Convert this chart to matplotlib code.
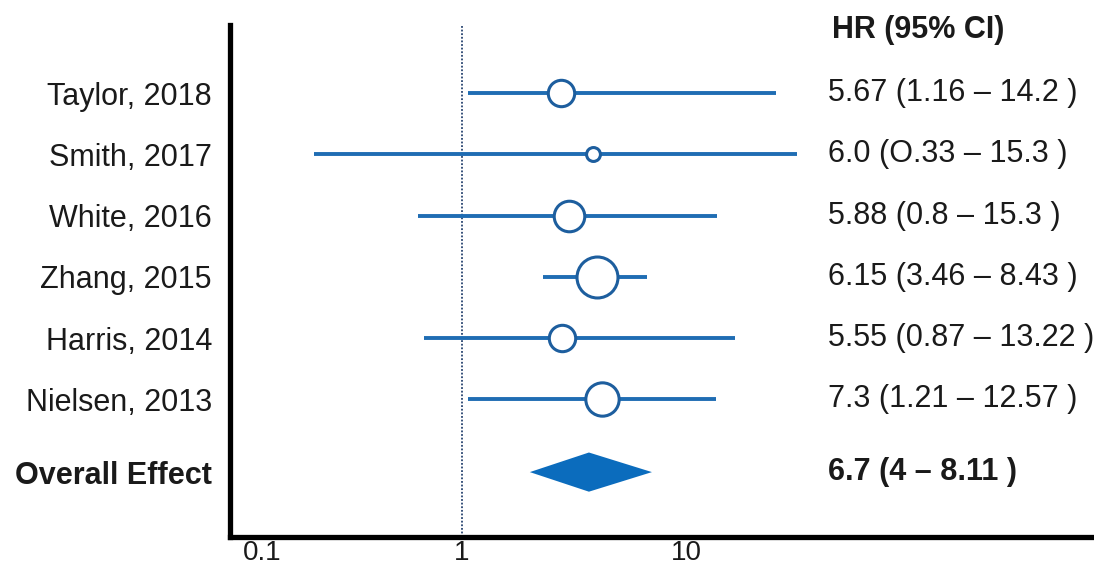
#!/usr/bin/env python3
import matplotlib.pyplot as plt
from matplotlib.transforms import blended_transform_factory, ScaledTranslation

plt.rcParams["font.family"] = ["Liberation Sans", "DejaVu Sans"]

studies = ["Taylor, 2018", "Smith, 2017", "White, 2016", "Zhang, 2015",
           "Harris, 2014", "Nielsen, 2013"]
point = [2.93, 4.15, 3.20, 4.33, 2.96, 4.58]
lower = [1.07, 0.20, 0.62, 2.41, 0.66, 1.07]
upper = [30.3, 38.0, 15.9, 7.46, 19.4, 15.8]
weights = [19, 10, 22, 29.5, 19, 24]
hr_text = ["5.67 (1.16 \u2013 14.2 )", "6.0 (O.33 \u2013 15.3 )", "5.88 (0.8 \u2013 15.3 )",
           "6.15 (3.46 \u2013 8.43 )", "5.55 (0.87 \u2013 13.22 )", "7.3 (1.21 \u2013 12.57 )"]

overall_label = "Overall Effect"
overall_point = 3.97
overall_lower = 2.09
overall_upper = 7.87
overall_text = "6.7 (4 \u2013 8.11 )"

xticks = [0.1, 1, 10]
xtick_labels = ["0.1", "1", "10"]

LINE = "#1f6db3"
EDGE = "#1d5e9e"
DIAMOND = "#0b6cbd"
TEXT = "#1a1a1a"
FS = 22

fig = plt.figure(figsize=(10.94, 5.70), dpi=100)
ax = fig.add_axes([0.2102, 0.0579, 0.7898, 0.898])

ys = list(range(len(studies)))
overall_y = 6.19

ax.axvline(1, color="#27436f", lw=1.3, ls=(0, (1.0, 1.0)), zorder=1)

for y, p, lo, hi, w in zip(ys, point, lower, upper, weights):
    ax.plot([lo, hi], [y, y], color=LINE, lw=2.8, solid_capstyle="butt", zorder=2)
    ax.plot([p], [y], marker="o", ms=w, mfc="white", mec=EDGE, mew=2.2, zorder=3)

h = 0.32
ax.fill([overall_lower, overall_point, overall_upper, overall_point],
        [overall_y, overall_y - h, overall_y, overall_y + h],
        color=DIAMOND, lw=0, zorder=3)

ax.set_xscale("log")
ax.set_xlim(0.0805, 957)
ax.set_ylim(7.25, -1.11)

ax.set_xticks(xticks)
ax.set_xticklabels(xtick_labels)
ax.minorticks_off()
ax.set_yticks(ys + [overall_y])
ax.set_yticklabels(studies + [overall_label])
ax.get_yticklabels()[-1].set_fontweight("bold")
ax.tick_params(axis="both", length=0, labelsize=FS, colors=TEXT)
ax.tick_params(axis="x", labelsize=20, pad=2)
ax.tick_params(axis="y", pad=13)

# the outer tick labels sit a little right of their log position in the source
for lab, dx in zip(ax.get_xticklabels(), [12, 0, 12]):
    lab.set_transform(lab.get_transform() + ScaledTranslation(dx / 100, 0, fig.dpi_scale_trans))

for s in ["top", "right"]:
    ax.spines[s].set_visible(False)
for s in ["left", "bottom"]:
    ax.spines[s].set_linewidth(3.8)
    ax.spines[s].set_color("black")

tr = blended_transform_factory(ax.transAxes, ax.transData)
tx = (828 - 230) / 864
ax.text(tx + 0.005, -1.03, "HR (95% CI)", transform=tr, ha="left", va="center",
        fontsize=FS, fontweight="bold", color=TEXT)
for y, t in zip(ys, hr_text):
    ax.text(tx, y, t, transform=tr, ha="left", va="center", fontsize=FS, color=TEXT)
ax.text(tx, overall_y, overall_text, transform=tr, ha="left", va="center",
        fontsize=FS, fontweight="bold", color=TEXT)

fig.savefig("out.png", dpi=100)
